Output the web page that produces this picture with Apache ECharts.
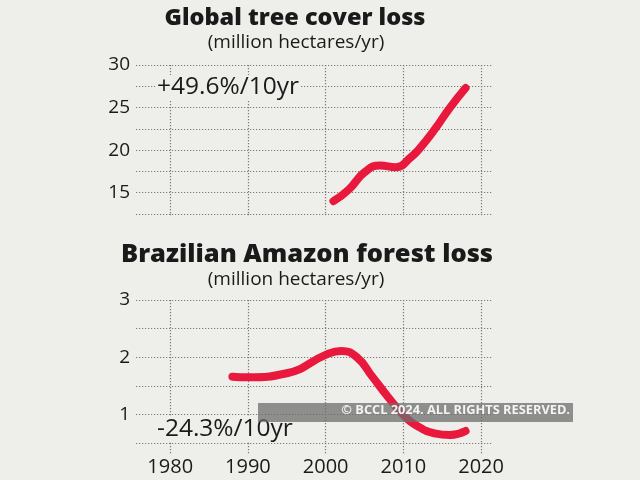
<!DOCTYPE html>
<html>
<head>
<meta charset="utf-8">
<script src="https://cdn.jsdelivr.net/npm/echarts@6/dist/echarts.min.js"></script>
<style>
html,body{margin:0;padding:0;background:#eeeeea;}
#main{width:640px;height:480px;}
</style>
</head>
<body>
<div id="main"></div>
<script>
var xTickYears = [1980, 1990, 2000, 2010, 2020];
var globalYears = [2001, 2003, 2005, 2007, 2009, 2011, 2012, 2014, 2016, 2018];
var globalLoss = [14.0, 15.4, 17.4, 18.2, 18.0, 19.2, 20.1, 22.4, 25.0, 27.3];
var amazonYears = [1988, 1990, 1995, 2000, 2002, 2004, 2006, 2008, 2010, 2012, 2014, 2016, 2018];
var amazonLoss = [1.66, 1.65, 1.72, 2.04, 2.11, 2.0, 1.66, 1.31, 0.99, 0.78, 0.67, 0.64, 0.71];

var FONT = 'Open Sans';
var BG = '#eeeeea';
var chart = echarts.init(document.getElementById('main'));
var gridLine = {show: true, lineStyle: {color: '#7a7a78', type: [1.2, 1.8], width: 1.2}};
function xAxis(gridIndex, showLabel, tickLen) {
  return {
    type: 'value', gridIndex: gridIndex, min: 1975.6, max: 2021.4,
    axisLine: {show: false},
    axisTick: {show: true, customValues: xTickYears, length: tickLen, inside: false,
      lineStyle: {color: '#7a7a78', type: [1.2, 1.8], width: 1.2}},
    axisLabel: {show: showLabel, customValues: xTickYears, margin: tickLen + 2,
      fontFamily: FONT, fontSize: 20, color: '#1a1a1a',
      formatter: function (v) { return String(v); }},
    splitLine: gridLine
  };
}
function yAxis(gridIndex, min, max, interval, labels) {
  return {
    type: 'value', gridIndex: gridIndex, min: min, max: max, interval: interval,
    axisLine: {show: false}, axisTick: {show: false},
    axisLabel: {show: true, margin: 6, fontFamily: FONT, fontSize: 19, color: '#1a1a1a',
      formatter: function (v) { return labels.indexOf(v) >= 0 ? String(v) : ''; }},
    splitLine: gridLine
  };
}
chart.setOption({
  backgroundColor: BG,
  animation: false,
  title: [
    {text: 'Global tree cover loss', left: 290, top: 1, textAlign: 'center',
      textStyle: {fontFamily: FONT, fontWeight: 800, fontSize: 23.5, color: '#1a1a1a'}},
    {text: '(million hectares/yr)', left: 291, top: 28, textAlign: 'center',
      textStyle: {fontFamily: FONT, fontWeight: 500, fontSize: 19, color: '#1a1a1a'}},
    {text: 'Brazilian Amazon forest loss', left: 302, top: 237, textAlign: 'center',
      textStyle: {fontFamily: FONT, fontWeight: 800, fontSize: 25.5, color: '#1a1a1a'}},
    {text: '(million hectares/yr)', left: 291, top: 265, textAlign: 'center',
      textStyle: {fontFamily: FONT, fontWeight: 500, fontSize: 19, color: '#1a1a1a'}}
  ],
  grid: [
    {left: 136, right: 148, top: 65, height: 149},
    {left: 136, right: 148, top: 300, height: 143}
  ],
  xAxis: [xAxis(0, false, 3), xAxis(1, true, 12)],
  yAxis: [yAxis(0, 12.5, 30, 2.5, [15, 20, 25, 30]), yAxis(1, 0.5, 3, 0.5, [1, 2, 3])],
  series: [
    {type: 'line', xAxisIndex: 0, yAxisIndex: 0, smooth: 0.5, showSymbol: false,
      data: globalYears.map(function (y, i) { return [y, globalLoss[i]]; }),
      lineStyle: {color: '#e8193c', width: 8, cap: 'round', join: 'round'}},
    {type: 'line', xAxisIndex: 1, yAxisIndex: 1, smooth: 0.5, showSymbol: false,
      data: amazonYears.map(function (y, i) { return [y, amazonLoss[i]]; }),
      lineStyle: {color: '#e8193c', width: 8, cap: 'round', join: 'round'}}
  ],
  graphic: [
    {type: 'text', left: 155, top: 75, z: 50, style: {text: '+49.6%/10yr', font: '24.5px "Open Sans"', fill: '#1a1a1a',
      backgroundColor: BG, padding: [0, 2, 0, 2]}},
    {type: 'text', left: 155, top: 417, z: 50, style: {text: '-24.3%/10yr', font: '24.5px "Open Sans"', fill: '#1a1a1a',
      backgroundColor: BG, padding: [0, 2, 0, 2]}},
    {type: 'rect', shape: {x: 258, y: 403, width: 315, height: 19}, style: {fill: 'rgba(110,110,110,0.75)'}, z: 100},
    {type: 'text', right: 70, top: 404, z: 101, style: {text: '© BCCL 2024. ALL RIGHTS RESERVED.', font: 'bold 12.8px "Open Sans"', fill: '#f4f4f4'}}
  ]
});
</script>
</body>
</html>
